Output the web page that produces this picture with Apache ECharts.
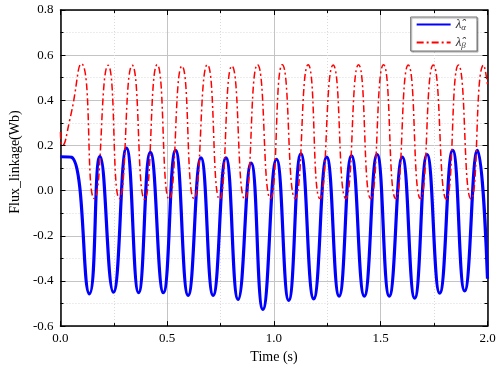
<!DOCTYPE html>
<html>
<head>
<meta charset="utf-8">
<script src="https://cdn.jsdelivr.net/npm/echarts@6/dist/echarts.min.js"></script>
<style>
  html, body { margin: 0; padding: 0; background: #fff; }
  #chart { width: 500px; height: 369px; }
</style>
</head>
<body>
<div id="chart"></div>
<script>
// 读图得到的极值点 (时间 s, 磁链 Wb)
const alphaT = [0, 0.052, 0.1355, 0.185, 0.248, 0.309, 0.366, 0.421, 0.482, 0.539, 0.598, 0.658,
  0.715, 0.775, 0.832, 0.893, 0.948, 1.012, 1.069, 1.126, 1.186, 1.247, 1.305, 1.363,
  1.423, 1.483, 1.540, 1.601, 1.659, 1.717, 1.776, 1.837, 1.893, 1.953, 2.0];
const alphaV = [0.15, 0.148, -0.457, 0.152, -0.45, 0.188, -0.452, 0.17, -0.452, 0.178, -0.464, 0.145,
  -0.464, 0.145, -0.482, 0.122, -0.526, 0.139, -0.486, 0.163, -0.479, 0.148, -0.467, 0.154,
  -0.467, 0.16, -0.467, 0.148, -0.476, 0.16, -0.454, 0.178, -0.444, 0.178, -0.39];

const betaT = [0, 0.008, 0.045, 0.098, 0.158, 0.223, 0.276, 0.336, 0.394, 0.453, 0.509, 0.569,
  0.625, 0.688, 0.745, 0.803, 0.863, 0.923, 0.983, 1.039, 1.099, 1.16, 1.215, 1.277,
  1.336, 1.396, 1.453, 1.513, 1.57, 1.629, 1.686, 1.746, 1.807, 1.864, 1.923, 1.982, 2.0];
const betaV = [0.26, 0.2, 0.32, 0.562, -0.035, 0.555, -0.035, 0.555, -0.038, 0.558, -0.038, 0.552,
  -0.035, 0.558, -0.038, 0.552, -0.038, 0.558, -0.035, 0.558, -0.035, 0.558, -0.035, 0.556,
  -0.035, 0.558, -0.035, 0.558, -0.035, 0.556, -0.035, 0.556, -0.037, 0.556, -0.037, 0.556, 0.47];

const xTicks = ["0.0", "0.5", "1.0", "1.5", "2.0"];

const font = "'Liberation Serif', 'Times New Roman', serif";

let myChart = echarts.init(document.getElementById("chart"));

function pairs(t, v) {
  return t.map((x, i) => [x, v[i]]);
}

const frameLine = { show: true, onZero: false, lineStyle: { color: "#000", width: 1.5 } };
const tickIn = { show: true, inside: true, length: 5, lineStyle: { color: "#000", width: 1 } };
const minorIn = { show: true, splitNumber: 2, length: 3, lineStyle: { color: "#000", width: 1 } };

myChart.setOption({
  animation: false,
  grid: { left: 45, right: 12.5, top: 10, bottom: 40 },
  legend: {
    right: 23,
    top: 17,
    orient: "vertical",
    itemWidth: 34,
    itemHeight: 12,
    itemGap: 4,
    padding: [1, 11, 1, 5],
    borderColor: "#777",
    borderWidth: 1,
    backgroundColor: "#fff",
    shadowColor: "rgba(0,0,0,0.35)",
    shadowOffsetX: 1,
    shadowOffsetY: 1,
    shadowBlur: 1,
    itemStyle: { opacity: 0 },
    textStyle: {
      fontFamily: font,
      fontSize: 13,
      color: "#333",
      rich: {
        l: { fontFamily: font, fontStyle: "italic", fontSize: 13, lineHeight: 15, color: "#333" },
        s: { fontFamily: font, fontStyle: "italic", fontSize: 9, lineHeight: 9, verticalAlign: "bottom", color: "#333" },
      },
    },
    formatter: function (name) {
      return name === "alpha" ? "{l|λ̂}{s|α}" : "{l|λ̂}{s|β}";
    },
    data: ["alpha", "beta"],
  },
  xAxis: [
    {
      type: "value",
      min: 0,
      max: 2,
      interval: 0.5,
      name: "Time (s)",
      nameLocation: "middle",
      nameGap: 22,
      nameTextStyle: { fontFamily: font, fontSize: 14, color: "#000" },
      axisLine: frameLine,
      axisTick: tickIn,
      minorTick: minorIn,
      axisLabel: {
        fontFamily: font,
        fontSize: 13,
        color: "#000",
        margin: 6,
        formatter: (v) => xTicks[Math.round(v / 0.5)],
      },
      splitLine: { show: true, lineStyle: { color: "#c4c4c4", width: 1 } },
      minorSplitLine: { show: true, lineStyle: { color: "#dadada", width: 1, type: [1, 2] } },
    },
    {
      type: "value",
      position: "top",
      min: 0,
      max: 2,
      interval: 0.5,
      axisLine: frameLine,
      axisTick: tickIn,
      minorTick: minorIn,
      axisLabel: { show: false },
      splitLine: { show: false },
    },
  ],
  yAxis: [
    {
      type: "value",
      min: -0.6,
      max: 0.8,
      interval: 0.2,
      name: "Flux_linkage(Wb)",
      nameLocation: "middle",
      nameGap: 32,
      nameTextStyle: { fontFamily: font, fontSize: 14, color: "#000", padding: [0, 0, 0, 12] },
      axisLine: frameLine,
      axisTick: tickIn,
      minorTick: minorIn,
      axisLabel: {
        fontFamily: font,
        fontSize: 13,
        color: "#000",
        margin: 7,
        formatter: (v) => v.toFixed(1),
      },
      splitLine: { show: true, lineStyle: { color: "#c4c4c4", width: 1 } },
      minorSplitLine: { show: true, lineStyle: { color: "#dadada", width: 1, type: [1, 2] } },
    },
    {
      type: "value",
      position: "right",
      min: -0.6,
      max: 0.8,
      interval: 0.2,
      axisLine: frameLine,
      axisTick: tickIn,
      minorTick: minorIn,
      axisLabel: { show: false },
      splitLine: { show: false },
    },
  ],
  series: [
    {
      name: "alpha",
      type: "line",
      data: pairs(alphaT, alphaV),
      smooth: 0.5,
      symbol: "none",
      lineStyle: { color: "#0000ff", width: 3.2 },
      itemStyle: { color: "#0000ff" },
    },
    {
      name: "beta",
      type: "line",
      data: pairs(betaT, betaV),
      smooth: 0.6,
      symbol: "none",
      lineStyle: { color: "#ff0000", width: 1.5, type: [7, 3, 2, 3] },
      itemStyle: { color: "#ff0000" },
    },
  ],
});
</script>
</body>
</html>
